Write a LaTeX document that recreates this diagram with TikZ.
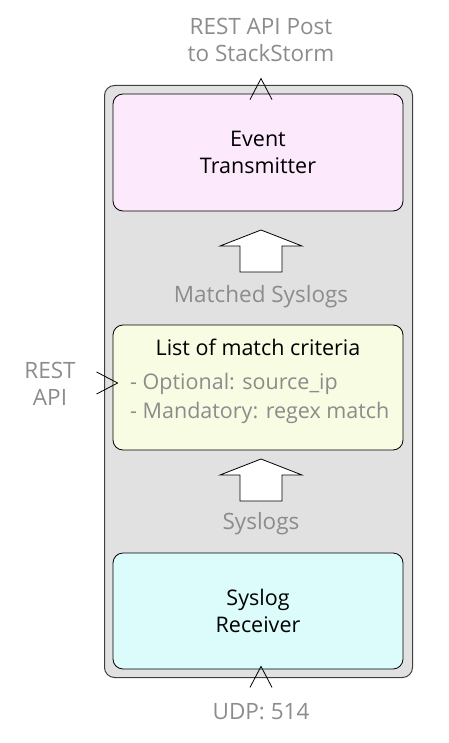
\documentclass[tikz,border=0pt]{standalone}
\usepackage{fontspec}
\setmainfont{Open Sans}
\usetikzlibrary{positioning,calc}
\definecolor{frameGray}{HTML}{E1E1E1}
\definecolor{txPink}{HTML}{FCEAFC}
\definecolor{critYellow}{HTML}{F8FCE2}
\definecolor{rxCyan}{HTML}{DCFCFC}
\definecolor{noteGray}{HTML}{8C8C8C}

\begin{document}
\begin{tikzpicture}[
    x=1pt, y=-1pt,
    % --- STYLES ---
    frame/.style={
        rectangle, rounded corners=10pt,
        draw=black!75, line width=1pt, fill=frameGray,
        minimum width=308pt, minimum height=592pt
    },
    stage/.style={
        rectangle, rounded corners=10pt,
        draw=black, line width=0.8pt,
        minimum width=290pt,
        align=center, inner sep=0pt,
        font=\fontsize{21.5}{27}\selectfont
    },
    note/.style={
        text=noteGray, align=center, inner sep=0pt,
        font=\fontsize{22.5}{27}\selectfont
    },
    item/.style={
        text=noteGray, inner sep=0pt, anchor=west,
        font=\fontsize{21.5}{27}\selectfont
    },
    blockarrow/.style={draw=black, line width=0.8pt, fill=white},
    chevron/.style={draw=black, line width=0.8pt}
]
\useasboundingbox (0,0) rectangle (448,743);

% ===== 1. FRAME & STAGES =====
\node[frame] (frame) at (258.5,381.5) {};

\node[stage, fill=txPink, minimum height=117pt] (tx) at (258,152.5) {Event\\Transmitter};
\node[stage, fill=critYellow, minimum height=125pt] (crit) at (258,387.5) {};
\node[stage, fill=rxCyan, minimum height=116pt] (rx) at (258,611) {Syslog\\Receiver};

% contents of the criteria list
\node[inner sep=0pt, font=\fontsize{21.5}{27}\selectfont] (critTitle) at (258,347) {List of match criteria};
\node[item] (optItem) at (130,384) {- Optional: source\_ip};
\node[item, below=7pt of optItem.south west, anchor=north west] (manItem) {- Mandatory: regex match};

% ===== 2. FLOW ARROWS =====
\coordinate (upA) at (261,230);
\coordinate (upB) at (261,459);
\foreach \tip in {upA,upB}
  \draw[blockarrow] (\tip) -- ++(41,16) -- ++(-20,0) -- ++(0,26) -- ++(-42,0)
      -- ++(0,-26) -- ++(-20,0) -- cycle;

\node[note] (matched) at (261,297) {Matched Syslogs};
\node[note] (syslogs) at (261,524) {Syslogs};

% ===== 3. EXTERNAL INTERFACES =====
\node[note] (restPost) at (261,40) {REST API Post\\to StackStorm};
\coordinate (outTip) at ($(tx.north)+(3,-15)$);
\draw[chevron] ($(outTip)+(-11,21)$) -- (outTip) -- ($(outTip)+(11,21)$);

\node[note] (restApi) at (50,384) {REST\\API};
\coordinate (inTip) at ($(crit.west)+(5,-4.5)$);
\draw[chevron] ($(inTip)+(-21,-11)$) -- (inTip) -- ($(inTip)+(-21,11)$);

\node[note] (udp) at (261,712) {UDP: 514};
\coordinate (udpTip) at ($(rx.south)+(3,-3)$);
\draw[chevron] ($(udpTip)+(-11,21)$) -- (udpTip) -- ($(udpTip)+(11,21)$);

\end{tikzpicture}
\end{document}
